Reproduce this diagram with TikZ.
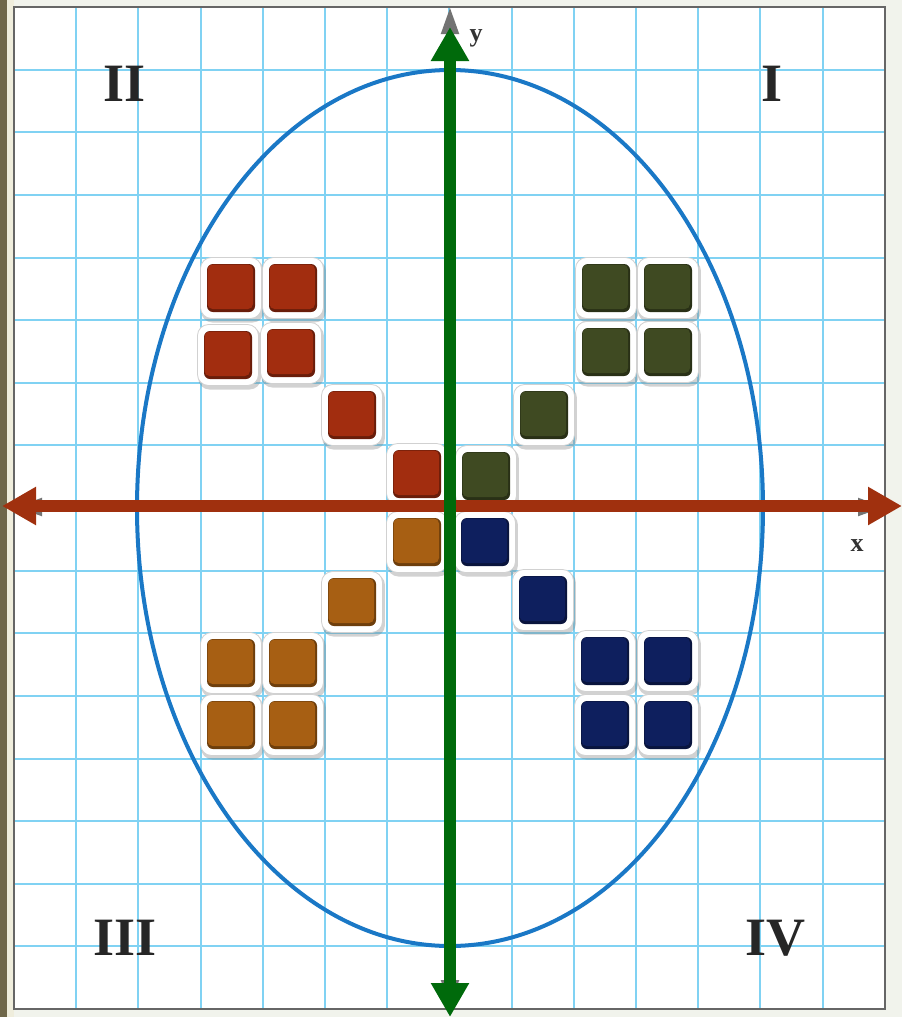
\documentclass[tikz,border=0pt]{standalone}
\usepackage{fontspec}
\setmainfont{Liberation Serif}
\usetikzlibrary{arrows.meta, shadows}

\definecolor{gridblue}{HTML}{80D2F3}
\definecolor{ellblue}{HTML}{1A78C6}
\definecolor{axisred}{HTML}{A0300E}
\definecolor{axisgreen}{HTML}{006A0B}
\definecolor{tilered}{HTML}{A22D0F}
\definecolor{tileolive}{HTML}{3F4A22}
\definecolor{tileorange}{HTML}{A75F13}
\definecolor{tilenavy}{HTML}{0E1F5E}
\definecolor{stripdark}{HTML}{6F6749}
\definecolor{stripcream}{HTML}{EFEDDC}
\definecolor{bgout}{HTML}{F1F3EC}

\begin{document}
\begin{tikzpicture}[x=1pt, y=-1pt,
  gridline/.style={gridblue, line width=2pt},
  frameline/.style={black!60, line width=2pt},
  grayaxis/.style={black!55, line width=2pt, {Triangle[length=26pt,width=18pt]}-{Triangle[length=26pt,width=18pt]}},
  bigaxis/.style={line width=12pt, {Triangle[length=34pt,width=36pt]}-{Triangle[length=34pt,width=36pt]}},
  tile/.style={rectangle, minimum size=61pt, inner sep=0pt, rounded corners=11pt, fill=white,
    draw=black!18, line width=0.8pt,
    drop shadow={opacity=0.35, shadow xshift=1.5pt, shadow yshift=-3pt, shadow scale=1.03},
    path picture={
      \fill[#1!65!black, rounded corners=6pt]
        ([shift={(-24pt,-24pt)}]path picture bounding box.center) rectangle
        ([shift={(24pt,24pt)}]path picture bounding box.center);
      \fill[#1, rounded corners=5pt]
        ([shift={(-23.5pt,-21pt)}]path picture bounding box.center) rectangle
        ([shift={(22pt,23.5pt)}]path picture bounding box.center);
    }},
  quad/.style={font=\fontsize{54}{56}\selectfont\bfseries, text=black!85},
  axislabel/.style={font=\fontsize{26}{28}\selectfont\bfseries, text=black!80}]
\useasboundingbox (0,0) rectangle (902,1017);
% background, margins and frame
\fill[bgout] (0,0) rectangle (902,1017);
\fill[white] (14,7) rectangle (885,1009);
\fill[stripdark] (0,0) rectangle (7,1017);
\fill[stripcream] (7,0) rectangle (14,1017);
% grid 14 x 16
\foreach \k in {1,...,13} { \draw[gridline] ({14+62.2*\k},7) -- ({14+62.2*\k},1009); }
\foreach \k in {1,...,15} { \draw[gridline] (14,{7+62.625*\k}) -- (885,{7+62.625*\k}); }
\draw[frameline] (14,7) rectangle (885,1009);
% ellipse
\draw[ellblue, line width=4pt] (450,508) ellipse [x radius=313, y radius=438];
% thin gray axes
\coordinate (gl) at (16,507);
\coordinate (gr) at (884,507);
\coordinate (gt) at (450,8);
\coordinate (gb) at (450,1006);
\draw[grayaxis] (gl) -- (gr);
\draw[grayaxis] (gt) -- (gb);
% tiles
\foreach \n/\x/\y/\c in {r1/231/288/tilered, r2/293/288/tilered, r3/228/355/tilered,
    r4/291/353/tilered, r5/352/415/tilered, r6/417/474/tilered,
    o1/606/288/tileolive, o2/668/288/tileolive, o3/606/352/tileolive,
    o4/668/352/tileolive, o5/544/415/tileolive, o6/486/476/tileolive,
    a1/417/542/tileorange, a2/352/602/tileorange, a3/231/663/tileorange,
    a4/293/663/tileorange, a5/231/725/tileorange, a6/293/725/tileorange,
    b1/485/542/tilenavy, b2/543/600/tilenavy, b3/605/661/tilenavy,
    b4/668/661/tilenavy, b5/605/725/tilenavy, b6/668/725/tilenavy} {
  \node[tile=\c] (\n) at (\x,\y) {};
}
% colored axes
\coordinate (xl) at (2,506);
\coordinate (xr) at (902,506);
\coordinate (yt) at (450,27);
\coordinate (yb) at (450,1017);
\draw[bigaxis, axisred] (xl) -- (xr);
\draw[bigaxis, axisgreen] (yt) -- (yb);
% labels
\node[axislabel] (ly) at (476,38) {y};
\node[axislabel] (lx) at (857,546) {x};
\node[quad] (qII) at (125,84) {II};
\node[quad] (qI) at (772,84) {I};
\node[quad] (qIII) at (125,938) {III};
\node[quad] (qIV) at (775,938) {IV};
\end{tikzpicture}
\end{document}
